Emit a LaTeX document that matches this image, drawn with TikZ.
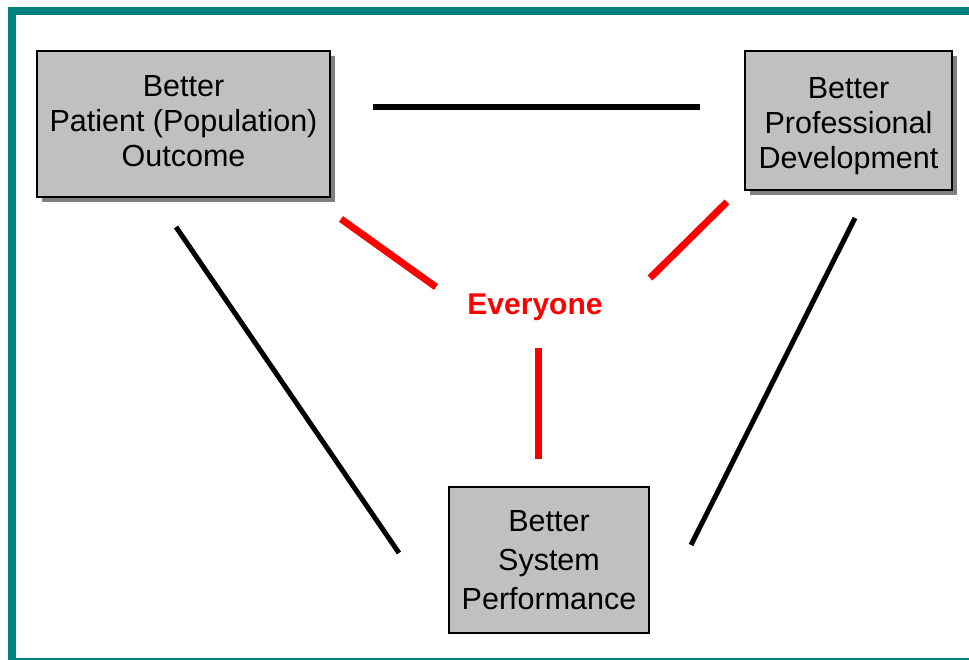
\documentclass[tikz,border=0pt]{standalone}
\usepackage{fontspec}
\setmainfont{Liberation Sans}
\usetikzlibrary{shadows}
\definecolor{frameteal}{HTML}{008080}
\definecolor{boxgray}{HTML}{C0C0C0}
\definecolor{shadowgray}{HTML}{808080}
\definecolor{evred}{HTML}{FF0000}
\begin{document}
\begin{tikzpicture}[x=1pt,y=-1pt,
  boxnode/.style={draw=black, line width=1.5pt, fill=boxgray, align=center,
    inner sep=0pt, font=\fontsize{30.5}{35}\selectfont},
  shadowed/.style={drop shadow={shadow xshift=5pt, shadow yshift=-5pt, fill=shadowgray, opacity=1}},
  blackline/.style={draw=black, line width=5pt},
  redline/.style={draw=evred, line width=7pt}]
\useasboundingbox (0,0) rectangle (969,660);
% frame
\fill[frameteal] (8,7) rectangle (969,15);
\fill[frameteal] (8,7) rectangle (16,660);
\fill[frameteal] (16,658) rectangle (969,660);
% boxes
\node[boxnode, shadowed, minimum width=293pt, minimum height=146pt] (pat) at (183.5,124)
  {Better\\Patient (Population)\\Outcome\vphantom{p}};
\node[boxnode, shadowed, minimum width=207pt, minimum height=139pt] (prof) at (848.5,120.5)
  {\rule{0pt}{32pt}Better\\Professional\\Development};
\node[boxnode, font=\fontsize{30.5}{39}\selectfont, minimum width=200pt, minimum height=146pt] (sys) at (549,560)
  {\rule{0pt}{28pt}Better\\System\\Performance\vphantom{p}};
\node[text=evred, font=\fontsize{30}{36}\selectfont\bfseries, anchor=base, inner sep=0pt] (every) at (535,315) {Everyone};
% connector end points
\coordinate (h1) at (373,107);
\coordinate (h2) at (700,107);
\coordinate (l1) at (176,227);
\coordinate (l2) at (399,553);
\coordinate (r1) at (855,218);
\coordinate (r2) at (691,545);
\coordinate (ra1) at (341,219);
\coordinate (ra2) at (436,287);
\coordinate (rb1) at (727,202);
\coordinate (rb2) at (650,278);
\coordinate (rc1) at (538,348);
\coordinate (rc2) at (538,459);
% connectors
\draw[blackline, line width=6pt] (h1) -- (h2);
\draw[blackline] (l1) -- (l2);
\draw[blackline] (r1) -- (r2);
\draw[redline] (ra1) -- (ra2);
\draw[redline] (rb1) -- (rb2);
\draw[redline] (rc1) -- (rc2);
\end{tikzpicture}
\end{document}
